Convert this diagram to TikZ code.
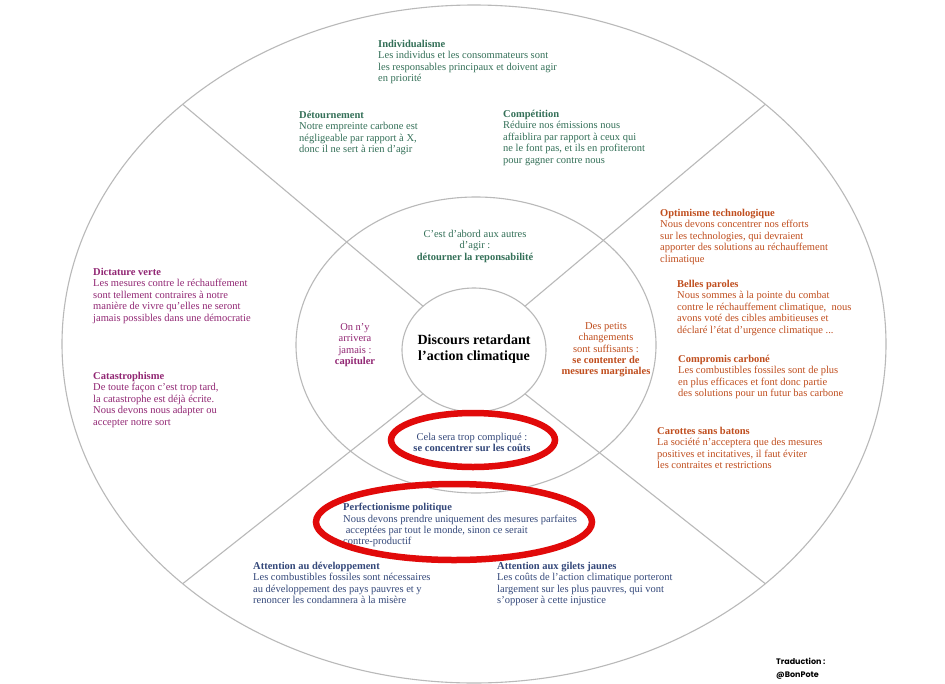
\documentclass[tikz,border=0pt]{standalone}
\usepackage{fontspec}
\setmainfont{Liberation Serif}
\newfontfamily\creditfont{Poppins}
\definecolor{ringgray}{RGB}{185,185,185}
\definecolor{tgreen}{RGB}{52,112,88}
\definecolor{tpurple}{RGB}{145,38,115}
\definecolor{torange}{RGB}{192,78,30}
\definecolor{tblue}{RGB}{52,72,122}
\definecolor{markred}{RGB}{225,10,10}
\begin{document}
\begin{tikzpicture}[x=1pt,y=-1pt,
  ring/.style={draw=ringgray, line width=1.1pt},
  txt/.style={inner sep=0pt, align=left, anchor=north west, font=\fontsize{10.5}{11.45}\selectfont},
  ctxt/.style={inner sep=0pt, align=center, anchor=north, font=\fontsize{10.5}{11.45}\selectfont},
  redring/.style={draw=markred, line width=6.5pt}]
\useasboundingbox[fill=white] (0,0) rectangle (945,683);
% rings
\coordinate (oc) at (474,344);
\coordinate (mc) at (476,345);
\coordinate (ic) at (474,350);
\draw[ring] (oc) ellipse [x radius=412pt, y radius=339pt];
\draw[ring] (mc) ellipse [x radius=180pt, y radius=148pt];
\draw[ring] (ic) ellipse [x radius=72pt, y radius=62pt];
% spokes
\coordinate (ulin) at (423.1,306.2);  \coordinate (ulout) at (182.7,104.3);
\coordinate (urin) at (524.9,306.2);  \coordinate (urout) at (765.3,104.3);
\coordinate (llin) at (423.1,393.8);  \coordinate (llout) at (182.7,583.7);
\coordinate (lrin) at (524.9,393.8);  \coordinate (lrout) at (765.3,583.7);
\draw[ring] (ulin) -- (ulout);
\draw[ring] (urin) -- (urout);
\draw[ring] (llin) -- (llout);
\draw[ring] (lrin) -- (lrout);
% centre
\node[inner sep=0pt, align=center, font=\fontsize{14}{16.5}\selectfont\bfseries] (title) at (474,349)
  {Discours retardant\\l’action climatique};
% green sector
\node[txt, text=tgreen] (indiv) at (378,40) {\textbf{Individualisme}\\Les individus et les consommateurs sont\\les responsables principaux et doivent agir\\en priorité};
\node[txt, text=tgreen] (detour) at (299,111) {\textbf{Détournement}\\Notre empreinte carbone est\\négligeable par rapport à X,\\donc il ne sert à rien d'agir};
\node[txt, text=tgreen] (compet) at (503,110) {\textbf{Compétition}\\Réduire nos émissions nous\\affaiblira par rapport à ceux qui\\ne le font pas, et ils en profiteront\\pour gagner contre nous};
\node[ctxt, text=tgreen] (autres) at (475,230) {C'est d'abord aux autres\\d'agir :\\\textbf{détourner la reponsabilité}};
% purple sector
\node[txt, text=tpurple] (dicta) at (93,268) {\textbf{Dictature verte}\\Les mesures contre le réchauffement\\sont tellement contraires à notre\\manière de vivre qu'elles ne seront\\jamais possibles dans une démocratie};
\node[txt, text=tpurple] (catas) at (93,372) {\textbf{Catastrophisme}\\De toute façon c'est trop tard,\\la catastrophe est déjà écrite.\\Nous devons nous adapter ou\\accepter notre sort};
\node[ctxt, text=tpurple] (capit) at (355,323) {On n'y\\arrivera\\jamais :\\\textbf{capituler}};
% orange sector
\node[txt, text=torange] (optim) at (660,209) {\textbf{Optimisme technologique}\\Nous devons concentrer nos efforts\\sur les technologies, qui devraient\\apporter des solutions au réchauffement\\climatique};
\node[txt, text=torange] (belles) at (677,280) {\textbf{Belles paroles}\\Nous sommes à la pointe du combat\\contre le réchauffement climatique,~ nous\\avons voté des cibles ambitieuses et\\déclaré l'état d'urgence climatique ...};
\node[txt, text=torange] (compro) at (678,355) {\textbf{Compromis carboné}\\Les combustibles fossiles sont de plus\\en plus efficaces et font donc partie\\des solutions pour un futur bas carbone};
\node[txt, text=torange] (carot) at (657,427) {\textbf{Carottes sans batons}\\La société n'acceptera que des mesures\\positives et incitatives, il faut éviter\\les contraites et restrictions};
\node[ctxt, text=torange] (petits) at (606,322) {Des petits\\changements\\sont suffisants :\\\textbf{se contenter de}\\\textbf{mesures marginales}};
% blue sector
\node[ctxt, text=tblue] (complique) at (472,433) {Cela sera trop compliqué :\\\textbf{se concentrer sur les coûts}};
\node[txt, text=tblue] (perfec) at (343,503) {\textbf{Perfectionisme politique}\\Nous devons prendre uniquement des mesures parfaites\\\ acceptées par tout le monde, sinon ce serait\\contre-productif};
\node[txt, text=tblue] (devel) at (253,562) {\textbf{Attention au développement}\\Les combustibles fossiles sont nécessaires\\au développement des pays pauvres et y\\renoncer les condamnera à la misère};
\node[txt, text=tblue] (gilets) at (497,562) {\textbf{Attention aux gilets jaunes}\\Les coûts de l'action climatique porteront\\largement sur les plus pauvres, qui vont\\s'opposer à cette injustice};
% credit
\node[inner sep=0pt, align=left, anchor=north west, font=\creditfont\bfseries\fontsize{8}{12.5}\selectfont] (credit) at (776,658) {Traduction :\\@BonPote};
% red highlight rings
\coordinate (r1) at (473,440);
\coordinate (r2) at (454,522);
\draw[redring] (r1) ellipse [x radius=82pt, y radius=27pt];
\draw[redring] (r2) ellipse [x radius=138pt, y radius=38pt];
\end{tikzpicture}
\end{document}
